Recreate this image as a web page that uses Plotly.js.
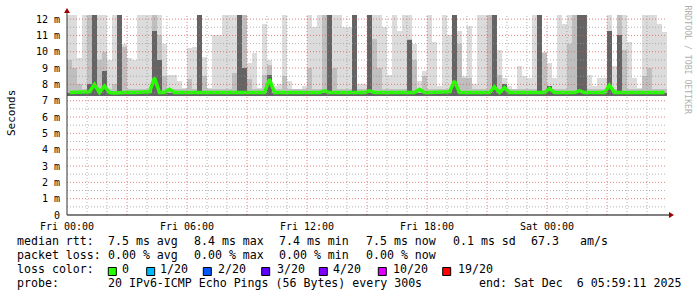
<!DOCTYPE html>
<html>
<head>
<meta charset="utf-8">
<script src="https://cdn.plot.ly/plotly-3.0.1.min.js"></script>
<style>html,body{margin:0;padding:0;background:#fff;}#chart{width:697px;height:297px;}</style>
</head>
<body>
<div id="chart"></div>
<script>
// ---- data (ms), one value per 15-minute slot, 30 hours starting Fri 00:00 ----
const slotHours = 0.25;
const smokeFloor = 7.3;
const smokeLight = [12.3,12.3,9.6,12.3,12.3,12.3,12.3,12.3,9.5,12.3,
12.3,10.5,9.6,9.5,12.3,12.3,12.3,12.3,12.3,10.5,
8.6,8.6,8.2,7.8,10.2,10.3,12.3,9.7,7.8,11.0,
11.0,12.3,12.3,12.3,12.3,12.3,9.3,9.9,7.8,11.7,
9.5,7.9,8.0,12.3,8.2,7.7,7.7,7.9,12.3,11.5,
12.3,12.3,12.3,12.3,12.3,11.5,11.5,12.3,8.0,8.0,
12.3,12.3,12.3,11.5,8.6,12.3,11.3,12.3,12.3,10.5,
8.2,8.8,12.3,10.6,7.9,12.3,11.0,12.3,11.3,8.5,
11.6,8.0,12.3,12.3,12.3,12.3,10.1,8.4,7.9,7.7,
9.1,8.5,8.4,12.3,12.3,10.0,9.3,8.4,12.3,11.7,
12.3,12.3,12.3,12.3,8.6,7.9,8.4,8.4,12.3,9.1,
12.3,12.3,10.6,8.4,7.8,12.3,12.3,12.3,11.7,11.2];
const smokeMid = [9.5,9.0,8.0,7.7,12.3,7.7,9.5,10.0,7.7,8.0,
7.7,10.3,7.7,7.7,7.7,7.7,7.7,12.3,11.0,8.5,
7.7,7.7,7.7,7.7,8.3,7.7,7.7,8.5,7.7,7.7,
7.7,7.7,7.7,8.7,7.7,12.3,8.3,7.7,7.7,8.6,
9.2,7.7,7.7,8.5,7.7,7.7,7.7,7.7,9.0,7.7,
7.7,12.3,7.7,9.0,7.7,7.7,7.7,7.7,7.7,7.7,
7.7,10.8,9.0,7.7,7.7,7.7,7.7,7.7,10.8,9.5,
7.7,8.5,7.7,7.7,7.7,7.7,7.7,7.7,10.5,8.4,
8.4,7.7,7.7,7.7,12.3,7.7,8.6,7.7,7.7,7.7,
7.7,7.7,7.7,7.7,12.3,9.9,7.7,7.7,7.7,7.7,
10.5,12.3,7.7,7.7,7.7,7.7,7.7,7.7,7.7,7.7,
12.3,10.1,7.7,7.7,7.7,8.5,9.0,7.7,7.7,7.7];
const smokeDark = [7.5,7.5,7.5,7.5,8.0,12.3,7.5,8.8,7.5,7.5,
12.3,7.5,7.5,7.5,7.5,7.5,7.5,11.3,9.5,7.5,
7.5,7.5,7.5,7.5,7.5,7.5,12.3,7.5,7.5,7.5,
7.5,7.5,7.5,7.5,12.3,9.0,7.5,7.5,7.5,7.5,
8.6,7.5,7.5,7.5,7.5,7.5,7.5,7.5,7.5,7.5,
7.5,7.5,12.3,7.5,7.5,7.5,7.5,12.3,7.5,7.5,
12.3,7.5,7.5,7.5,7.5,7.5,7.5,7.5,10.7,7.5,
7.5,7.5,7.5,7.5,7.5,7.5,7.5,12.3,7.5,7.5,
7.5,7.5,7.5,7.5,7.5,12.3,7.5,8.0,7.5,7.5,
7.5,7.5,7.5,7.5,12.3,7.5,7.9,7.5,7.5,7.5,
7.5,7.5,12.3,12.3,7.5,7.5,7.5,7.5,11.3,7.5,
11.0,7.5,7.5,7.5,7.5,7.5,7.5,7.5,7.5,7.5];
const medianRtt = [7.5,7.5,7.52,7.5,7.55,8.0,7.5,7.9,7.5,7.48,
7.5,7.5,7.52,7.5,7.5,7.5,7.55,8.4,7.5,7.5,
7.7,7.5,7.5,7.48,7.5,7.5,7.5,7.5,7.52,7.5,
7.5,7.5,7.5,7.52,7.5,7.5,7.5,7.48,7.5,7.5,
8.3,7.5,7.5,7.5,7.52,7.5,7.5,7.5,7.48,7.5,
7.5,7.6,7.5,7.5,7.5,7.5,7.5,7.52,7.5,7.5,
7.6,7.5,7.5,7.5,7.5,7.5,7.48,7.5,7.5,7.5,
7.7,7.5,7.5,7.5,7.5,7.5,7.55,8.2,7.5,7.5,
7.5,7.5,7.5,7.5,7.5,7.85,7.5,7.8,7.5,7.5,
7.5,7.5,7.52,7.5,7.5,7.5,7.75,7.5,7.5,7.5,
7.5,7.5,7.6,7.5,7.5,7.5,7.5,7.5,7.95,7.5,
7.5,7.5,7.5,7.5,7.5,7.52,7.5,7.5,7.5,7.5];

const xTickVals = [0,6,12,18,24];
const xTickText = ['Fri 00:00','Fri 06:00','Fri 12:00','Fri 18:00','Sat 00:00'];
const yTickVals = [0,1,2,3,4,5,6,7,8,9,10,11,12];
const yTickText = ['0','1 m','2 m','3 m','4 m','5 m','6 m','7 m','8 m','9 m','10 m','11 m','12 m'];

const rttStats = ['7.5 ms avg','8.4 ms max','7.4 ms min','7.5 ms now','0.1 ms sd','67.3','am/s'];
const lossStats = ['0.00 % avg','0.00 % max','0.00 % min','0.00 % now'];
const lossLabels = ['0','1/20','2/20','3/20','4/20','10/20','19/20'];
const lossColors = ['#26ff00','#00b8ff','#0059ff','#5e00ff','#7e00ff','#dd00ff','#ff0000'];
const probeText = '20 IPv6-ICMP Echo Pings (56 Bytes) every 300s';
const endText = 'end: Sat Dec\u00a0\u00a06 05:59:11 2025';

// ---- layout helpers (pixel positions of the legend block) ----
const PL = 67, PW = 600, PB = 215, PH = 200;
const px = v => (v - PL) / PW;
const py = v => (PB - v) / PH;
const mono = 'DejaVu Sans Mono, monospace';

const xs = smokeLight.map((_, i) => i * slotHours + slotHours / 2);
function band(tops, color) {
  return {type:'bar', x: xs, y: tops.map(t => t - smokeFloor), base: smokeFloor,
    width: slotHours, marker: {color: color, line: {width: 0}}, hoverinfo: 'skip', showlegend: false};
}
const traces = [
  band(smokeLight, 'rgba(150,150,150,0.33)'),
  band(smokeMid, '#bfbfbf'),
  band(smokeDark, '#646464'),
  {type:'scatter', mode:'lines', x: xs, y: medianRtt,
   line: {color: '#26ff00', width: 3.5, shape: 'linear'}, hoverinfo: 'skip', showlegend: false}
];

// grid on top of the smoke (rrdtool style)
const shapes = [];
const majorCol = 'rgba(215,90,90,0.75)', minorCol = 'rgba(150,150,150,0.7)';
for (let h = 1; h < 30; h++) {
  const major = h % 3 === 0;
  shapes.push({type:'line', layer:'above', xref:'x', yref:'paper', x0:h, x1:h, y0:0, y1:1,
    line:{color: major ? majorCol : minorCol, width:1, dash:'1px,2px'}});
}
for (let k = 1; k <= 24; k++) {
  const v = k / 2;
  const major = k % 2 === 0;
  shapes.push({type:'line', layer:'above', xref:'paper', yref:'y', x0:0, x1:1, y0:v, y1:v,
    line:{color: major ? majorCol : minorCol, width:1, dash:'1px,2px'}});
}
// axis extensions and arrows
shapes.push({type:'line', layer:'above', xref:'paper', yref:'paper', x0:0, x1:px(670), y0:0, y1:0, line:{color:'#000', width:1}});
shapes.push({type:'line', layer:'above', xref:'paper', yref:'paper', x0:0, x1:0, y0:0, y1:py(12), line:{color:'#333', width:1}});
shapes.push({type:'path', layer:'above', xref:'paper', yref:'paper', xsizemode:'pixel', ysizemode:'pixel',
  xanchor:1, yanchor:0, path:'M 2 -3 L 2 3 L 7 0 Z', fillcolor:'#a00000', line:{width:0}});
shapes.push({type:'path', layer:'above', xref:'paper', yref:'paper', xsizemode:'pixel', ysizemode:'pixel',
  xanchor:0, yanchor:1, path:'M -3 2 L 3 2 L 0 7 Z', fillcolor:'#a00000', line:{width:0}});

// legend block
const annotations = [];
function txt(x, y, s, opts) {
  annotations.push(Object.assign({xref:'paper', yref:'paper', x: px(x), y: py(y), text: s.replace(/ /g, '\u00a0'),
    showarrow:false, xanchor:'left', yanchor:'middle', borderpad:0,
    font:{family: mono, size: 11.6, color:'#000'}}, opts || {}));
}
const rttX = [107.3,193.3,278.3,365,451.7,530,579.3];
txt(16, 241, 'median rtt:');
rttStats.forEach((s, i) => txt(rttX[i], 241, s));
txt(16, 255, 'packet loss:');
lossStats.forEach((s, i) => txt(rttX[i], 255, s));
txt(16, 269, 'loss color:');
const sqX = [108.3,146.7,203.3,261.7,319.3,378.3,442.7];
const lblX = [120.5,159.3,216.7,276,331.7,391.7,456.7];
lossLabels.forEach((s, i) => {
  shapes.push({type:'rect', xref:'paper', yref:'paper', x0: px(sqX[i]), x1: px(sqX[i] + 8),
    y0: py(275.5), y1: py(267.5), fillcolor: lossColors[i], line:{color:'#000', width:1}});
  txt(lblX[i], 269, s);
});
txt(16, 283, 'probe:');
txt(107.3, 283, probeText);
txt(478.3, 283, endText);
// y title and watermark
annotations.push({xref:'paper', yref:'paper', x: px(11), y: py(113), text:'Seconds', textangle:-90,
  showarrow:false, xanchor:'center', yanchor:'middle', font:{family: mono, size: 11, color:'#000'}});
annotations.push({xref:'paper', yref:'paper', x: px(687.5), y: py(60), text:'RRDTOOL / TOBI OETIKER', textangle:90,
  showarrow:false, xanchor:'center', yanchor:'middle', font:{family: mono, size: 8.2, color:'#b0b0b0'}});

const layout = {
  width: 697, height: 297,
  margin: {l: PL, r: 697 - PL - PW, t: 15, b: 297 - 15 - PH, pad: 0},
  paper_bgcolor: '#fff', plot_bgcolor: '#fff',
  barmode: 'overlay', bargap: 0,
  showlegend: false,
  xaxis: {range: [0, 30], tickmode:'array', tickvals: xTickVals, ticktext: xTickText, showgrid:false, zeroline:false,
    showline:false, ticks:'', ticklabelstandoff: 4, tickfont:{family: mono, size:10, color:'#000'}, fixedrange:true},
  yaxis: {range: [0, 12.25], tickmode:'array', tickvals: yTickVals, ticktext: yTickText, showgrid:false, zeroline:false,
    showline:false, ticks:'', ticklabelstandoff: 6, tickfont:{family: mono, size:10, color:'#000'}, fixedrange:true},
  shapes: shapes,
  annotations: annotations
};
Plotly.newPlot('chart', traces, layout, {staticPlot: true, displayModeBar: false});
</script>
</body>
</html>
